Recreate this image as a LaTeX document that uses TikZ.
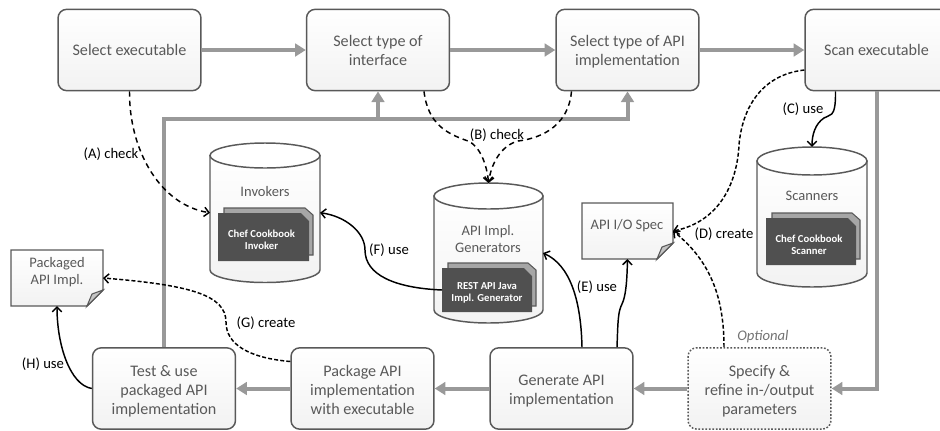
\documentclass[tikz,border=0pt]{standalone}
\usepackage{fontspec}
\setmainfont{Carlito}
\usetikzlibrary{arrows.meta}
\definecolor{txtgray}{HTML}{595959}
\definecolor{edgegray}{HTML}{595959}
\definecolor{flowgray}{HTML}{999999}
\definecolor{carddark}{HTML}{505050}
\definecolor{cardback}{HTML}{A6A6A6}
\definecolor{foldgray}{HTML}{C4C4C4}
\tikzset{
  x=0.75pt,y=-0.75pt,
  stepbox/.style={rounded corners=6.5pt,draw=edgegray,line width=1.1pt,top color=white,bottom color=black!5,
    minimum width=107.2pt,minimum height=61pt,inner sep=0pt,text=txtgray,
    font=\fontsize{12.1}{14.3}\selectfont},
  optbox/.style={stepbox,dash pattern=on 1.3pt off 1.3pt},
  flow/.style={draw=flowgray,line width=3pt,-{Triangle[length=8pt,width=9.5pt]},shorten >=0pt},
  usearrow/.style={draw=black,line width=1.1pt,-{Straight Barb[length=3.6pt,width=7pt]}},
  checkarrow/.style={usearrow,dash pattern=on 4pt off 3pt},
  createarrow/.style={usearrow,dash pattern=on 3pt off 1.6pt},
  lbl/.style={font=\fontsize{11}{13}\selectfont,text=black,inner sep=0pt},
  storelbl/.style={font=\fontsize{10.9}{12.9}\selectfont,text=txtgray,align=center,inner sep=0pt},
  cardlbl/.style={font=\fontsize{8}{8.8}\selectfont\bfseries,text=white,align=center,inner sep=0pt},
  anchorbox/.style={inner sep=0pt,outer sep=0pt},
  bodyshade/.style={draw=edgegray,line width=1.1pt,top color=white,bottom color=black!5},
}
% text lines of a step box, set a little below the box centre
\newcommand{\lowered}[2][1.5pt]{\raisebox{-#1}[\height][\depth]{\begin{tabular}{@{}c@{}}#2\end{tabular}}}
% name, x1, x2, top, ellipse centre, body bottom
\newcommand{\storecyl}[6]{%
  \pgfmathsetmacro{\cxx}{(#2+#3)/2}\pgfmathsetmacro{\rxx}{(#3-#2)/2}%
  \pgfmathsetmacro{\ryy}{#5-#4}%
  \pgfmathsetmacro{\cyy}{(#4+#6+\ryy)/2}%
  \draw[bodyshade] (#2,#5) -- (#2,#6) arc[start angle=180,end angle=0,x radius=\rxx,y radius=\ryy] -- (#3,#5) -- cycle;
  \draw[draw=edgegray,line width=1.1pt,fill=white] (\cxx,#5) ellipse[x radius=\rxx,y radius=\ryy];
  \pgfmathsetmacro{\wdd}{(#3-#2)*0.75}\pgfmathsetmacro{\htt}{(#6+\ryy-#4)*0.75}%
  \node[anchorbox,minimum width=\wdd pt,minimum height=\htt pt] (#1) at (\cxx,\cyy) {};
}
% name, x1, x2, y1, y2 (front card)
\newcommand{\cardstack}[5]{%
  \pgfmathsetmacro{\wdd}{(#3-#2)*0.75}\pgfmathsetmacro{\htt}{(#5-#4)*0.75}%
  \draw[fill=cardback,draw=edgegray,line width=0.8pt] (#2+6,#4-5) -- (#3-4,#4-5) -- (#3+4,#4+2) -- (#3+4,#5-6) -- (#2+6,#5-6) -- cycle;
  \fill[carddark] (#2,#4) -- (#3-8,#4) -- (#3,#4+8) -- (#3,#5) -- (#2,#5) -- cycle;
  \node[anchorbox,minimum width=\wdd pt,minimum height=\htt pt] (#1) at ({(#2+#3)/2},{(#4+#5)/2}) {};
}
% name, x1, x2, y1, y2
\newcommand{\docpage}[5]{%
  \pgfmathsetmacro{\wdd}{(#3-#2)*0.75}\pgfmathsetmacro{\htt}{(#5-#4)*0.75}%
  \draw[bodyshade,line join=miter] (#2,#4) -- (#3,#4) -- (#3,#5-16) -- (#3-16,#5) -- (#2,#5) -- cycle;
  \draw[fill=foldgray,draw=edgegray,line width=0.8pt] (#3,#5-16) -- (#3-11,#5-12) -- (#3-16,#5) -- cycle;
  \node[anchorbox,minimum width=\wdd pt,minimum height=\htt pt] (#1) at ({(#2+#3)/2},{(#4+#5)/2}) {};
}
\begin{document}
\begin{tikzpicture}
\useasboundingbox (0,0) rectangle (940,430);
\clip (0,0) rectangle (940,430);
% process boxes
\node[stepbox] (sel) at (129.5,50) {\lowered{Select executable}};
\node[stepbox] (sti) at (378,50) {\lowered{Select type of\\interface}};
\node[stepbox] (sapi) at (627.5,50) {\lowered{Select type of API\\implementation}};
\node[stepbox] (scan) at (876.5,50) {\lowered{Scan executable}};
\node[stepbox] (test) at (164,388.5) {\lowered[2.2pt]{Test \& use\\packaged API\\implementation}};
\node[stepbox] (pack) at (362.5,388.5) {\lowered[2.2pt]{Package API\\implementation\\with executable}};
\node[stepbox] (gen) at (561.5,388.5) {\lowered[2.2pt]{Generate API\\implementation}};
\node[optbox] (spec) at (759.5,388.5) {\lowered[2.2pt]{Specify \&\\refine in-/output\\parameters}};
\node[font=\fontsize{11}{13}\selectfont\itshape,text=black!55,inner sep=0pt] (opt) at (763,337) {Optional};
% stores
\storecyl{inv}{210}{320}{143}{155.5}{270}
\node[storelbl] (invl) at (265,191) {Invokers};
\cardstack{invc}{218}{309}{213}{261}
\node[cardlbl] (invt) at (261.5,240) {Chef Cookbook\\Invoker};
\storecyl{apig}{434}{543}{183}{196}{310}
\node[storelbl] (apil) at (488,239) {API Impl.\\Generators};
\cardstack{apic}{442}{532}{268}{312}
\node[cardlbl] (apit) at (487,293) {REST API Java\\Impl. Generator};
\storecyl{scn}{757}{867}{147}{161}{273}
\node[storelbl] (scnl) at (812,196) {Scanners};
\cardstack{scnc}{766}{856}{218}{265}
\node[cardlbl] (scnt) at (809,245) {Chef Cookbook\\Scanner};
% documents
\docpage{iospec}{582}{673}{203}{259}
\node[storelbl] (iol) at (627,226) {API I/O Spec};
\docpage{pkgd}{11}{103}{250}{306}
\node[storelbl] (pkl) at (57,272) {Packaged\\API Impl.};
% main flow
\draw[flow] (sel.east |- sti.west) -- (sti.west);
\draw[flow] (sti.east) -- (sapi.west);
\draw[flow] (sapi.east) -- (scan.west);
\draw[flow] (scan.south) |- (spec.east);
\draw[flow] (spec.west) -- (gen.east);
\draw[flow] (gen.west) -- (pack.east);
\draw[flow] (pack.west) -- (test.east);
\coordinate (fb) at (164,119);
\coordinate (fbm) at (sti.south |- fb);
\draw[flow] (test.north) -- (fb) -| (sapi.south);
\draw[flow] (fbm) -- (sti.south);
% dashed / solid relations
\draw[checkarrow] (sel.south) .. controls (129,150) and (160,205) .. (inv.west);
\draw[checkarrow] ([shift={(46,0)}]sti.south) .. controls (428,125) and (448,134) .. (468,141) .. controls (480,146) and (487,165) .. (apig.north);
\draw[checkarrow] ([shift={(-56,0)}]sapi.south) .. controls (568,130) and (535,139) .. (518,141) .. controls (500,146) and (491,165) .. (apig.north);
\draw[usearrow] ([shift={(-41,0)}]scan.south) .. controls (836,120) and (829,114) .. (824,118) .. controls (815,124) and (812,135) .. (scn.north);
\draw[createarrow] ([shift={(0,20)}]scan.west) .. controls (760,75) and (742,110) .. (739,145) .. controls (737,185) and (718,222) .. (iospec.east);
\draw[createarrow] ([shift={(-35.5,0)}]spec.north) .. controls (724,300) and (712,262) .. (iospec.east);
\draw[usearrow] ([shift={(20.5,0)}]gen.north) .. controls (581,300) and (570,265) .. (apig.east);
\draw[usearrow] ([shift={(55.5,0)}]gen.north) .. controls (618,320) and (618,312) .. (622,304) .. controls (626,296) and (627,280) .. (iospec.south);
\draw[usearrow] (apic.west) .. controls (395,288) and (365,275) .. (365,250) .. controls (365,232) and (345,216) .. (inv.east);
\draw[createarrow] ([shift={(0,-27)}]pack.west) .. controls (250,358) and (226,345) .. (226,322) .. controls (226,295) and (190,285) .. (pkgd.east);
\draw[usearrow] (test.west) .. controls (70,385) and (57,345) .. (pkgd.south);
% labels
\node[lbl] (la) at (111,154) {(A) check};
\node[lbl] (lb) at (497,135) {(B) check};
\node[lbl] (lc) at (803,109) {(C) use};
\node[lbl] (ld) at (724,234) {(D) create};
\node[lbl] (le) at (597,287) {(E) use};
\node[lbl] (lf) at (389,250) {(F) use};
\node[lbl] (lg) at (266,323) {(G) create};
\node[lbl] (lh) at (43,364) {(H) use};
\end{tikzpicture}
\end{document}
